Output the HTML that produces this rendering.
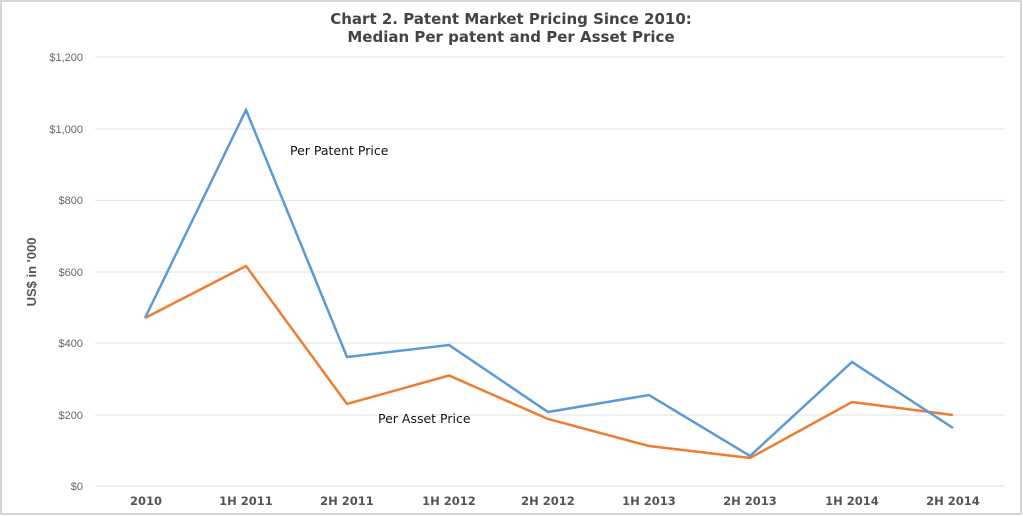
<!DOCTYPE html>
<html><head><meta charset="utf-8"><style>
html,body{margin:0;padding:0;background:#fff;}
svg{display:block;}
</style></head><body>
<svg width="1023" height="516" viewBox="0 0 1023 516" xmlns="http://www.w3.org/2000/svg" font-family="'Liberation Sans', sans-serif">
<rect x="1" y="1" width="1020" height="513" fill="#fff" stroke="#c8c8c8" stroke-width="1.5"/>
<g stroke="#e6e6e6" stroke-width="1.2">
<line x1="95" x2="1005" y1="57" y2="57"/>
<line x1="95" x2="1005" y1="129" y2="129"/>
<line x1="95" x2="1005" y1="200.5" y2="200.5"/>
<line x1="95" x2="1005" y1="272" y2="272"/>
<line x1="95" x2="1005" y1="343" y2="343"/>
<line x1="95" x2="1005" y1="415" y2="415"/>
<line x1="95" x2="1005" y1="486" y2="486"/>
</g>
<g font-size="11" fill="#666" text-anchor="end">
<text x="83" y="61">$1,200</text>
<text x="83" y="133">$1,000</text>
<text x="83" y="204">$800</text>
<text x="83" y="276">$600</text>
<text x="83" y="347">$400</text>
<text x="83" y="419">$200</text>
<text x="83" y="490">$0</text>
</g>
<text transform="translate(36,272) rotate(-90)" text-anchor="middle" font-size="13" font-weight="bold" fill="#555">US$ in '000</text>
<g font-size="11.5" font-weight="bold" fill="#555" text-anchor="middle" font-family="'DejaVu Sans', sans-serif">
<text x="146" y="505">2010</text>
<text x="246" y="505">1H 2011</text>
<text x="347" y="505">2H 2011</text>
<text x="449" y="505">1H 2012</text>
<text x="548" y="505">2H 2012</text>
<text x="649" y="505">1H 2013</text>
<text x="750" y="505">2H 2013</text>
<text x="852" y="505">1H 2014</text>
<text x="953" y="505">2H 2014</text>
</g>
<g font-size="15" font-weight="bold" fill="#444" text-anchor="middle" font-family="'DejaVu Sans', sans-serif">
<text x="511" y="24">Chart 2. Patent Market Pricing Since 2010:</text>
<text x="511" y="42">Median Per patent and Per Asset Price</text>
</g>
<polyline fill="none" stroke="#ed7d31" stroke-width="2.5" stroke-linejoin="miter" points="145,318 246,266 347,404 449,375.5 548,419 649,446 750,458 852,402 953,415"/>
<polyline fill="none" stroke="#5b9bd5" stroke-width="2.5" stroke-linejoin="miter" points="145,318 246,110 347,357 449,345 548,412 649,395 750,456 852,362 953,428"/>
<g font-size="12.5" fill="#111" font-family="'DejaVu Sans', sans-serif">
<text x="290" y="155">Per Patent Price</text>
<text x="378" y="423">Per Asset Price</text>
</g>
</svg>
</body></html>
